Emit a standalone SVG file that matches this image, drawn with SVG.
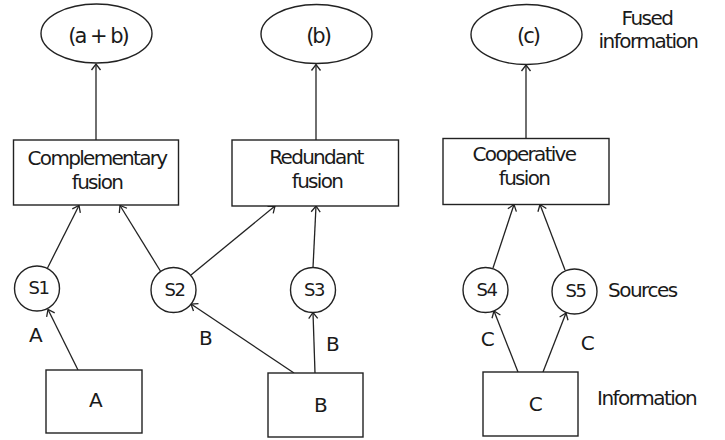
<svg xmlns="http://www.w3.org/2000/svg" width="725" height="440" viewBox="0 0 725 440">
<defs>
<marker id="arr" markerUnits="userSpaceOnUse" markerWidth="14" markerHeight="14" viewBox="-10 -7 14 14" refX="0" refY="0" orient="auto">
<path d="M-6,-4.5 L0,0 L-6,4.5" fill="none" stroke="#222" stroke-width="1.3"/>
</marker>
</defs>
<style>
.shape{fill:#fff;stroke:#222;stroke-width:1.4}
.edge{fill:none;stroke:#222;stroke-width:1.3;marker-end:url(#arr)}
text{font-family:"DejaVu Sans","Verdana",sans-serif;fill:#1a1a1a}
.box{font-size:20px;letter-spacing:-1.7px;text-anchor:middle}
.ell{font-size:21px;letter-spacing:-2px;text-anchor:middle}
.src{font-size:18px;letter-spacing:-1.5px;text-anchor:middle}
.lbl{font-size:20px;letter-spacing:-1.5px;text-anchor:middle}
.side{font-size:20px;letter-spacing:-1.5px}
</style>
<rect width="725" height="440" fill="#fff"/>
<g id="connectors">
<line class="edge" x1="96" y1="140" x2="96" y2="64"/>
<line class="edge" x1="316" y1="140" x2="316" y2="64.5"/>
<line class="edge" x1="526" y1="138.5" x2="526" y2="65"/>
<line class="edge" x1="47.5" y1="268" x2="79" y2="205.5"/>
<line class="edge" x1="161" y1="272" x2="120" y2="205.5"/>
<line class="edge" x1="191" y1="275" x2="275" y2="206"/>
<line class="edge" x1="313" y1="267.5" x2="316" y2="206"/>
<line class="edge" x1="493" y1="268" x2="514" y2="204.5"/>
<line class="edge" x1="565" y1="270" x2="540" y2="204.5"/>
<line class="edge" x1="78" y1="370" x2="48" y2="309.5"/>
<line class="edge" x1="294" y1="373" x2="191" y2="304"/>
<line class="edge" x1="315" y1="373" x2="313" y2="312.5"/>
<line class="edge" x1="518" y1="372" x2="494" y2="311"/>
<line class="edge" x1="543" y1="372" x2="566" y2="313"/>
</g>
<g id="out-ab"><ellipse class="shape" cx="96.5" cy="33.5" rx="55.5" ry="29.5"/><text class="ell" x="98" y="43">(a + b)</text></g>
<g id="out-b"><ellipse class="shape" cx="316.5" cy="34" rx="55.5" ry="29.5"/><text class="ell" x="318" y="43">(b)</text></g>
<g id="out-c"><ellipse class="shape" cx="526.5" cy="34.5" rx="55.5" ry="30"/><text class="ell" x="528" y="43">(c)</text></g>
<g id="label-fused"><text class="side" x="647" y="25" text-anchor="middle">Fused</text><text class="side" x="648" y="48" text-anchor="middle">information</text></g>
<g id="comp"><rect class="shape" x="13.5" y="140" width="165" height="65"/><text class="box" x="97" y="165">Complementary</text><text class="box" x="97" y="189">fusion</text></g>
<g id="red"><rect class="shape" x="232" y="140" width="166.5" height="66"/><text class="box" x="316" y="164">Redundant</text><text class="box" x="317" y="188">fusion</text></g>
<g id="coop"><rect class="shape" x="443" y="138.5" width="166" height="66"/><text class="box" x="524" y="161">Cooperative</text><text class="box" x="524" y="185">fusion</text></g>
<g id="s1"><circle class="shape" cx="37" cy="288.5" r="22.5"/><text class="src" x="38.5" y="294">S1</text></g>
<g id="s2"><circle class="shape" cx="173.5" cy="290" r="22.5"/><text class="src" x="174.5" y="295.5">S2</text></g>
<g id="s3"><circle class="shape" cx="313" cy="290" r="22.5"/><text class="src" x="314" y="295.5">S3</text></g>
<g id="s4"><circle class="shape" cx="485.5" cy="290" r="22.5"/><text class="src" x="486.5" y="295.5">S4</text></g>
<g id="s5"><circle class="shape" cx="574.5" cy="291.5" r="22.5"/><text class="src" x="575.5" y="297">S5</text></g>
<g id="label-sources"><text class="side" x="608" y="297">Sources</text></g>
<g id="edge-labels">
<text class="lbl" x="35" y="342">A</text>
<text class="lbl" x="205" y="345">B</text>
<text class="lbl" x="332" y="351">B</text>
<text class="lbl" x="487" y="346">C</text>
<text class="lbl" x="587" y="350">C</text>
</g>
<g id="info-a"><rect class="shape" x="46" y="370" width="96" height="63"/><text class="lbl" x="95" y="407">A</text></g>
<g id="info-b"><rect class="shape" x="268" y="373" width="95" height="64"/><text class="lbl" x="320" y="412">B</text></g>
<g id="info-c"><rect class="shape" x="483" y="372" width="95" height="64"/><text class="lbl" x="535" y="411">C</text></g>
<g id="label-information"><text class="side" x="597" y="405">Information</text></g>
</svg>
